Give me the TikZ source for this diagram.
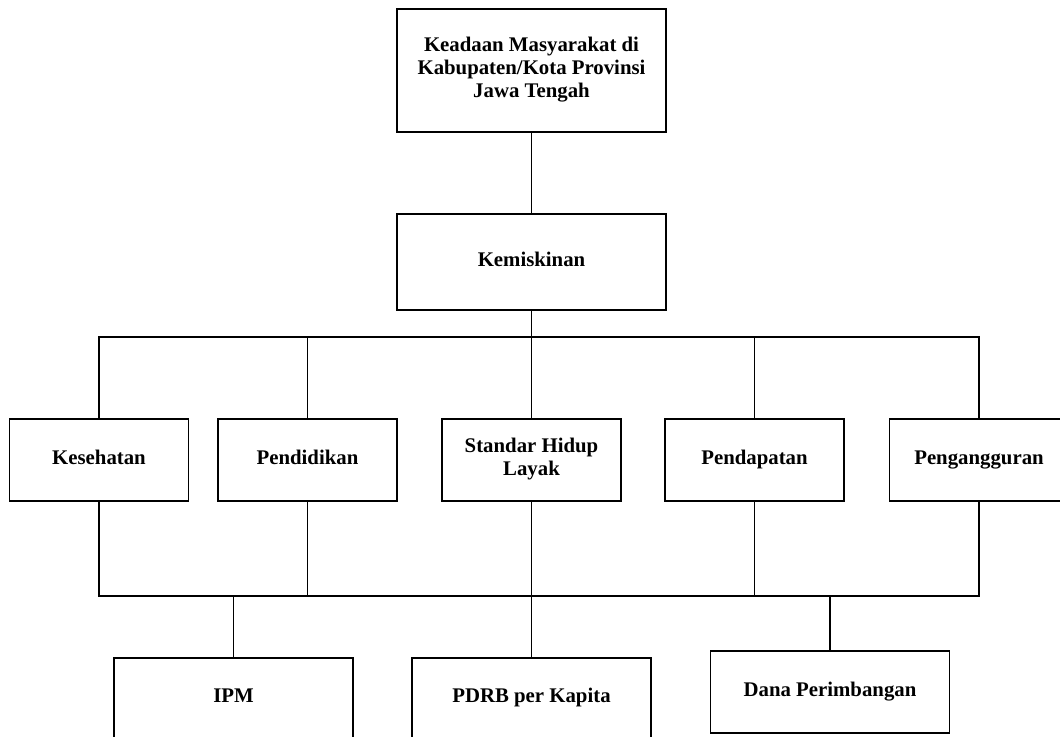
\documentclass[tikz,border=0pt]{standalone}
\usepackage{fontspec}
\setmainfont{Liberation Serif}
\usepackage{tikz}
\usetikzlibrary{positioning}

\tikzset{
  kotak/.style={draw, line width=0.8pt, inner sep=0pt, align=center,
    font=\fontsize{10.4}{11.6}\selectfont\bfseries,
    execute at begin node=\strut},
  tingkat/.style={kotak, minimum width=89.5pt, minimum height=41pt},
  bawah/.style={kotak, minimum width=119.5pt, minimum height=40pt},
  garis/.style={line width=0.8pt}
}

\begin{document}
\begin{tikzpicture}[x=0.5pt, y=-0.5pt]
\useasboundingbox (0,0) rectangle (1060,736);

\node at (531.5,70.5) [kotak, minimum width=134.5pt, minimum height=61.5pt] (atas)
{Keadaan Masyarakat di\\Kabupaten/Kota Provinsi\\Jawa Tengah};
\node at (531.5,262) [kotak, minimum width=134.5pt, minimum height=48pt] (miskin) {Kemiskinan};

\node at (99,460) [tingkat] (sehat) {Kesehatan};
\node at (307.5,460) [tingkat] (didik) {Pendidikan};
\node at (531.5,460) [tingkat] (layak) {Standar Hidup\\Layak};
\node at (754.5,460) [tingkat] (dapat) {Pendapatan};
\node at (979,460) [tingkat] (anggur) {Pengangguran};

\node at (233.5,698) [bawah] (ipm) {IPM};
\node at (531.5,698) [bawah] (pdrb) {PDRB per Kapita};
\node at (830,692) [bawah, minimum height=41pt] (dana) {Dana Perimbangan};

\coordinate (busA) at (531.5,337);
\coordinate (busB) at (531.5,596);

% atas ke kemiskinan
\draw[garis] (atas.south) -- (miskin.north);
\draw[garis] (miskin.south) -- (busA);

% cabang ke lima faktor
\draw[garis] (sehat.north) |- (busA) -| (anggur.north);
\draw[garis] (didik.north) -- (didik.north |- busA);
\draw[garis] (layak.north) -- (busA);
\draw[garis] (dapat.north) -- (dapat.north |- busA);

% gabungan ke bawah
\draw[garis] (sehat.south) |- (busB) -| (anggur.south);
\draw[garis] (didik.south) -- (didik.south |- busB);
\draw[garis] (layak.south) -- (busB);
\draw[garis] (dapat.south) -- (dapat.south |- busB);

\draw[garis] (ipm.north) -- (ipm.north |- busB);
\draw[garis] (pdrb.north) -- (busB);
\draw[garis] (dana.north) -- (dana.north |- busB);

\end{tikzpicture}
\end{document}
